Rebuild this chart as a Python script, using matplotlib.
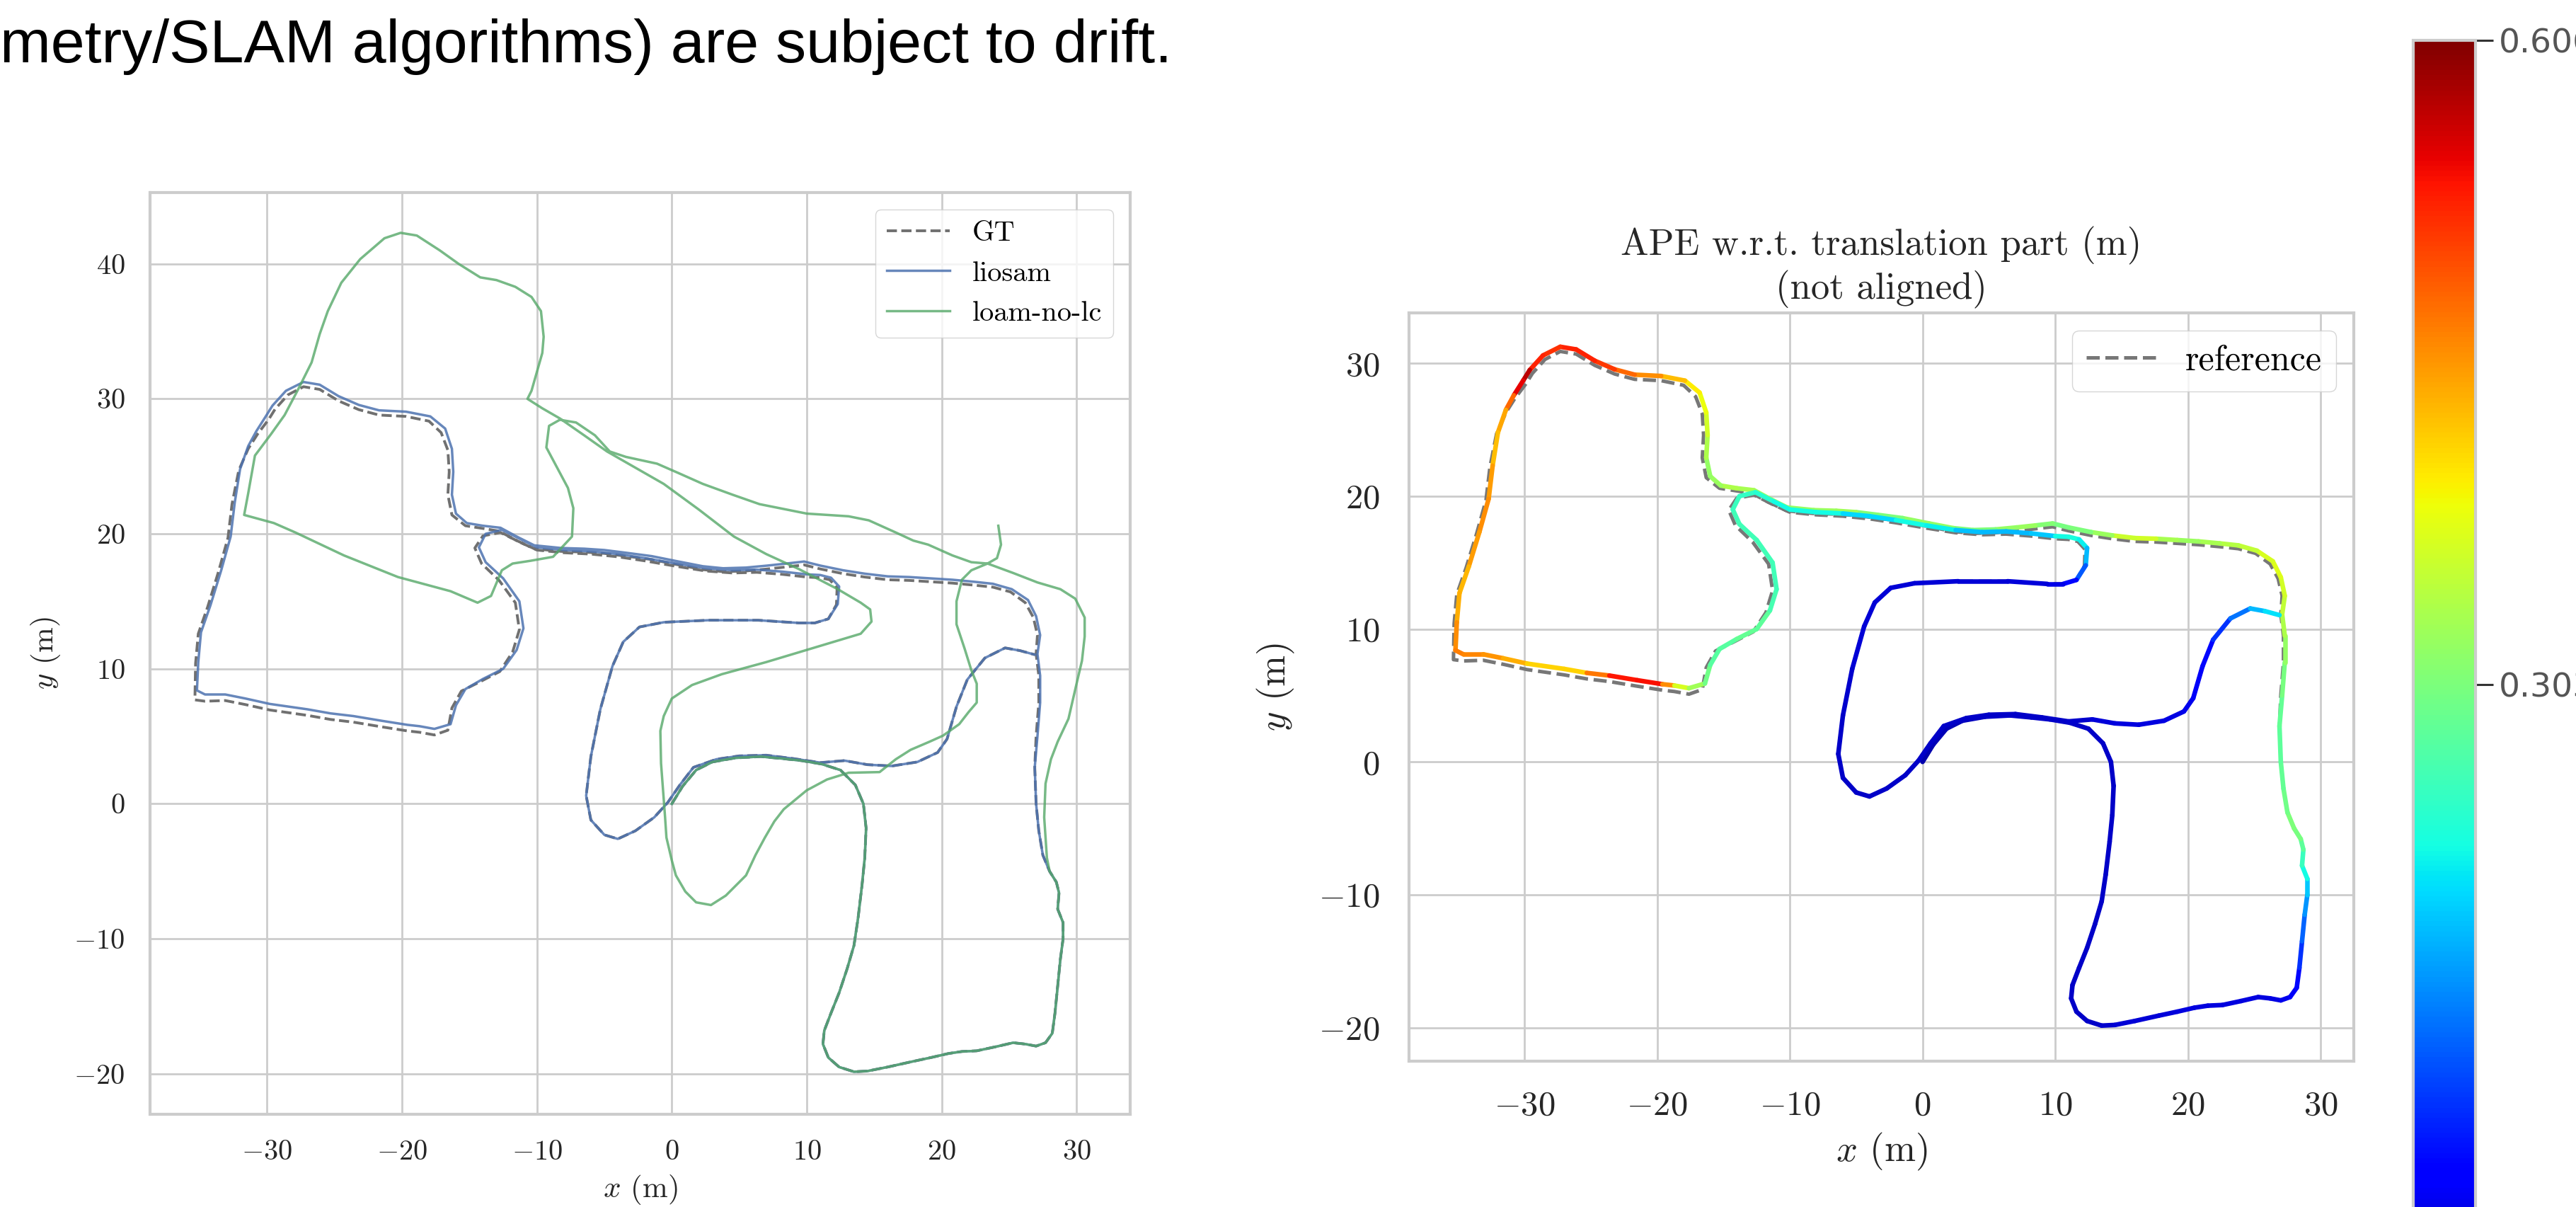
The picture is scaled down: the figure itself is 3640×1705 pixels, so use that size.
"""Two trajectory plots (GT / liosam / loam-no-lc and APE-coloured liosam) plus colorbar."""
import numpy as np
import matplotlib
matplotlib.use("Agg")
import matplotlib.pyplot as plt
from matplotlib.collections import LineCollection
from matplotlib.colors import Normalize
from matplotlib.cm import ScalarMappable

plt.rcParams.update({
    "font.family": ["cmr10"],
    "mathtext.fontset": "cm",
    "axes.formatter.use_mathtext": True,
})

# ---- liosam trajectory (m), in driving order ----
lio_x = [0.0, 0.8, 1.8, 3.0, 4.7, 6.6, 8.2, 9.6, 11.1,                      # start -> east
         12.5, 13.6, 14.2, 14.4, 14.3, 14.1, 13.8, 13.5, 13.0, 12.4, 11.8, 11.3, 11.2, 11.6, 12.4, 13.5, 14.5,
         16.0, 17.8, 19.2, 20.5, 21.5, 22.6, 24.0, 25.3, 26.2, 27.0, 27.7, 28.2,
         28.4, 28.6, 28.8, 29.0, 29.0, 28.6, 28.7, 28.5, 28.0, 27.5, 27.2, 27.0, 26.9, 27.1, 27.3, 27.3, 27.1,
         27.3, 27.0, 26.4, 25.2, 23.8, 22.4, 20.8, 19.2, 17.6, 16.0, 14.3, 12.7, 11.0, 9.8, 8.5, 7.1, 5.5, 3.8,
         2.3, 0.5, -1.5, -3.4, -5.0, -6.5, -8.2, -10.2, -11.5, -12.7,
         -14.0, -15.2, -16.0, -16.3, -16.2, -16.3, -16.8, -17.9, -19.7, -21.7, -23.2, -24.7, -26.1, -27.3,
         -28.6, -29.6, -30.1, -30.8, -31.4, -32.0, -32.4, -32.7, -33.4, -34.2, -34.9, -35.1, -35.2, -34.6,
         -33.1, -31.6, -29.8, -27.0, -25.3, -23.6, -21.5, -19.6, -18.7, -17.6, -16.4, -16.0, -15.3, -14.0,
         -12.5, -11.5, -11.0, -11.3, -12.5, -13.8, -14.3, -13.8, -12.6,
         -11.2, -10.0, -8.0, -6.0, -4.0, -2.0, 0.3, 2.5, 4.5, 6.3, 8.2, 10.0, 11.0,
         11.8, 12.4, 12.3, 11.6, 10.6, 9.4, 6.4, 2.7, -0.6, -2.4, -3.6, -4.4, -5.3, -6.0, -6.35, -6.0, -5.0,
         -4.0, -2.7, -1.3, -0.3, 0.6, 1.6, 3.3, 5.0, 7.0, 9.0, 11.0, 12.8, 14.5, 16.3, 18.2, 19.7, 20.4,
         21.1, 21.9, 23.2, 24.7, 25.8, 26.9]
lio_y = [0.0, 1.3, 2.5, 3.1, 3.4, 3.5, 3.35, 3.2, 2.95,
         2.5, 1.4, 0.0, -1.8, -4.0, -6.0, -8.5, -10.5, -12.2, -14.0, -15.5, -16.8, -17.8, -18.8, -19.5, -19.85, -19.8,
         -19.5, -19.1, -18.8, -18.5, -18.35, -18.3, -18.0, -17.7, -17.8, -17.95, -17.7, -17.0,
         -15.5, -13.5, -11.5, -10.0, -8.8, -7.8, -6.6, -5.8, -5.0, -3.8, -2.0, 0.0, 2.7, 5.0, 7.5, 9.5, 11.1,
         12.5, 13.9, 15.1, 15.9, 16.3, 16.45, 16.6, 16.7, 16.8, 16.85, 17.05, 17.3, 17.65, 17.95, 17.8, 17.65, 17.5, 17.45,
         17.6, 17.95, 18.35, 18.6, 18.8, 18.9, 18.95, 19.15, 19.8, 20.45,
         20.6, 20.8, 21.5, 22.9, 24.6, 26.3, 27.8, 28.7, 29.05, 29.15, 29.55, 30.2, 31.05, 31.25,
         30.6, 29.5, 28.7, 27.6, 26.5, 24.8, 22.3, 19.8, 17.3, 14.7, 12.7, 10.5, 8.4, 8.1,
         8.1, 7.8, 7.4, 7.0, 6.7, 6.5, 6.15, 5.85, 5.75, 5.55, 5.9, 7.3, 8.5, 9.25,
         10.0, 11.4, 13.0, 15.0, 16.7, 17.9, 19.0, 20.0, 20.3,
         19.6, 19.0, 18.8, 18.7, 18.5, 18.2, 17.8, 17.45, 17.3, 17.35, 17.2, 17.0, 16.95,
         16.75, 16.1, 14.8, 13.7, 13.4, 13.4, 13.6, 13.6, 13.45, 13.1, 12.0, 10.2, 7.0, 3.5, 0.6, -1.2, -2.3,
         -2.6, -2.0, -1.0, 0.1, 1.4, 2.7, 3.3, 3.55, 3.6, 3.35, 3.05, 3.2, 2.9, 2.8, 3.1, 3.8, 4.8,
         7.2, 9.2, 10.8, 11.55, 11.35, 11.05]
# APE (m) at each liosam point
ape = [0.02, 0.03, 0.03, 0.03, 0.04, 0.04, 0.04, 0.04, 0.04,
       0.04, 0.04, 0.04, 0.04, 0.04, 0.04, 0.04, 0.04, 0.04, 0.04, 0.04, 0.04, 0.04, 0.04, 0.04, 0.04, 0.045,
       0.045, 0.045, 0.05, 0.05, 0.05, 0.05, 0.05, 0.05, 0.05, 0.055, 0.06, 0.07,
       0.09, 0.12, 0.15, 0.18, 0.21, 0.24, 0.27, 0.29, 0.31, 0.30, 0.29, 0.28, 0.28, 0.29, 0.31, 0.33, 0.35,
       0.36, 0.37, 0.38, 0.36, 0.35, 0.34, 0.33, 0.32, 0.35, 0.38, 0.34, 0.31, 0.30, 0.30, 0.32, 0.33, 0.31, 0.30,
       0.31, 0.33, 0.31, 0.30, 0.32, 0.34, 0.31, 0.33, 0.32, 0.33,
       0.34, 0.34, 0.31, 0.33, 0.35, 0.38, 0.39, 0.41, 0.45, 0.47, 0.50, 0.53, 0.53, 0.53,
       0.51, 0.55, 0.60, 0.50, 0.47, 0.42, 0.44, 0.46, 0.46, 0.44, 0.43, 0.45, 0.47, 0.47,
       0.46, 0.45, 0.43, 0.40, 0.43, 0.52, 0.55, 0.53, 0.39, 0.35, 0.31, 0.28, 0.27, 0.28,
       0.29, 0.27, 0.26, 0.26, 0.26, 0.26, 0.26, 0.25, 0.25,
       0.23, 0.22, 0.23, 0.22, 0.19, 0.22, 0.23, 0.21, 0.17, 0.20, 0.17, 0.22, 0.23,
       0.23, 0.21, 0.16, 0.10, 0.06, 0.05, 0.045, 0.045, 0.045, 0.045, 0.045, 0.045, 0.045, 0.04, 0.04, 0.04, 0.04,
       0.04, 0.04, 0.04, 0.04, 0.04, 0.04, 0.04, 0.04, 0.04, 0.04, 0.04, 0.045, 0.05, 0.05, 0.05, 0.055, 0.06,
       0.07, 0.09, 0.12, 0.17, 0.20, 0.22]

# ---- ground truth (reference) trajectory ----
gt_x = [0.0, 0.8, 1.8, 3.0, 4.7, 6.6, 8.2, 9.6, 11.1,
        12.5, 13.6, 14.2, 14.4, 14.3, 14.1, 13.8, 13.5, 13.0, 12.4, 11.8, 11.3, 11.2, 11.6, 12.4, 13.5, 14.5,
        16.0, 17.8, 19.2, 20.5, 21.5, 22.6, 24.0, 25.3, 26.2, 27.0, 27.7, 28.2,
        28.4, 28.6, 28.8, 29.0, 29.0, 28.6, 28.7, 28.5, 28.0, 27.5, 27.2, 27.0, 26.9, 27.0, 27.2, 27.2, 27.0,
        27.1, 26.8, 26.2, 25.1, 23.8, 22.4, 20.8, 19.2, 17.6, 16.0, 14.3, 12.7, 11.0, 9.8, 8.5, 7.1, 5.5, 3.8,
        2.3, 0.5, -1.5, -3.4, -5.0, -6.5, -8.2, -10.2, -11.6, -12.8,
        -14.0, -15.3, -16.3, -16.6, -16.5, -16.6, -17.1, -18.0, -19.7, -21.7, -23.2, -24.7, -26.1, -27.3,
        -28.45, -29.4, -29.9, -30.7, -31.4, -32.1, -32.6, -32.9, -33.6, -34.4, -35.1, -35.3, -35.35, -34.6,
        -33.1, -31.6, -29.8, -27.0, -25.3, -23.6, -21.5, -19.6, -18.7, -17.6, -16.6, -16.3, -15.6, -14.2,
        -12.75, -11.8, -11.3, -11.6, -12.8, -14.1, -14.6, -14.0, -12.7,
        -11.3, -10.0, -8.0, -6.0, -4.0, -2.0, 0.3, 2.5, 4.5, 6.3, 8.2, 10.0, 11.0,
        11.7, 12.25, 12.2, 11.6, 10.6, 9.4, 6.4, 2.7, -0.6, -2.4, -3.6, -4.4, -5.3, -6.0, -6.35, -6.0, -5.0,
        -4.0, -2.7, -1.3, -0.3, 0.6, 1.6, 3.3, 5.0, 7.0, 9.0, 11.0, 12.8, 14.5, 16.3, 18.2, 19.7, 20.4,
        21.1, 21.9, 23.2, 24.7, 25.8, 26.9]
gt_y = [0.0, 1.3, 2.5, 3.1, 3.4, 3.5, 3.35, 3.2, 2.95,
        2.5, 1.4, 0.0, -1.8, -4.0, -6.0, -8.5, -10.5, -12.2, -14.0, -15.5, -16.8, -17.8, -18.8, -19.5, -19.85, -19.8,
        -19.5, -19.1, -18.8, -18.5, -18.35, -18.3, -18.0, -17.7, -17.8, -17.95, -17.7, -17.0,
        -15.5, -13.5, -11.5, -10.0, -8.8, -7.8, -6.6, -5.8, -5.0, -3.8, -2.0, 0.0, 2.7, 5.0, 7.5, 9.5, 11.1,
        12.5, 13.8, 14.9, 15.7, 16.05, 16.2, 16.35, 16.45, 16.55, 16.6, 16.8, 17.05, 17.4, 17.7, 17.55, 17.4, 17.25, 17.2,
        17.35, 17.7, 18.1, 18.35, 18.55, 18.65, 18.7, 18.9, 19.55, 20.2,
        20.4, 20.6, 21.4, 22.9, 24.6, 26.2, 27.5, 28.35, 28.7, 28.8, 29.2, 29.85, 30.7, 30.9,
        30.3, 29.25, 28.45, 27.4, 26.3, 24.7, 22.2, 19.7, 17.2, 14.6, 12.6, 10.4, 7.7, 7.6,
        7.65, 7.35, 6.95, 6.55, 6.25, 6.05, 5.7, 5.4, 5.3, 5.1, 5.45, 7.1, 8.35, 9.05,
        9.8, 11.25, 12.9, 14.9, 16.55, 17.8, 18.95, 19.85, 20.1,
        19.4, 18.8, 18.6, 18.5, 18.3, 18.0, 17.6, 17.25, 17.1, 17.15, 17.0, 16.8, 16.75,
        16.6, 16.0, 14.75, 13.7, 13.4, 13.4, 13.6, 13.6, 13.45, 13.1, 12.0, 10.2, 7.0, 3.5, 0.6, -1.2, -2.3,
        -2.6, -2.0, -1.0, 0.1, 1.4, 2.7, 3.3, 3.55, 3.6, 3.35, 3.05, 3.2, 2.9, 2.8, 3.1, 3.8, 4.8,
        7.2, 9.2, 10.8, 11.55, 11.35, 11.05]

# ---- loam-no-lc trajectory (drifts away once past the first loop) ----
loam_x = [0.0, 0.8, 1.8, 3.0, 4.7, 6.6, 8.2, 9.6, 11.1,
          12.5, 13.6, 14.2, 14.4, 14.3, 14.1, 13.8, 13.5, 13.0, 12.4, 11.8, 11.3, 11.2, 11.6, 12.4, 13.5, 14.5,
          16.0, 17.8, 19.2, 20.5, 21.5, 22.6, 24.0, 25.3, 26.2, 27.0, 27.7, 28.2,
          28.4, 28.6, 28.8, 29.0, 29.0, 28.6, 28.7, 28.5, 28.0,
          27.8, 27.7, 27.6, 27.7, 28.1, 28.6, 29.4, 30.0, 30.4, 30.6, 30.6, 29.9, 28.8, 27.1, 25.3, 23.4,
          22.2, 20.8, 19.0, 17.9, 16.6, 14.6, 13.1, 10.0, 8.0, 6.5, 4.5, 2.3, 0.5, -1.1, -3.4, -4.6, -5.7,
          -7.1, -8.3, -9.1,
          -9.3, -8.5, -7.7, -7.3, -7.4, -8.8, -10.5, -11.8, -12.6, -13.4, -14.4,
          -16.4, -20.3, -24.3, -27.9, -29.5, -31.7,
          -31.4, -30.9, -29.7, -28.7, -27.7, -26.7, -26.1, -25.5, -24.5, -23.1, -21.3, -20.1, -18.9, -17.2,
          -15.8, -14.2, -13.0, -11.6, -10.4, -9.7, -9.5, -9.6, -10.0, -10.4, -10.7,
          -9.6, -8.3, -6.5, -4.8, -2.7, -0.6, 2.0, 4.6, 7.0, 9.4, 12.3, 14.0, 14.7, 14.8, 14.0, 12.0, 10.0,
          7.0, 3.7, 1.5, 0.0, -0.6, -0.85, -0.8, -0.65, -0.5, -0.4, 0.0, 0.3, 1.0, 1.8, 2.9, 4.0, 5.5, 6.2,
          6.9, 7.6, 8.3, 10.0, 11.5, 13.1, 15.4, 16.6, 17.7, 19.1, 20.1, 21.3, 22.0, 22.6, 22.6, 22.2, 21.7,
          21.1, 21.1, 21.5, 22.2, 23.4, 24.1, 24.4, 24.2]
loam_y = [0.0, 1.3, 2.5, 3.1, 3.4, 3.5, 3.35, 3.2, 2.95,
          2.5, 1.4, 0.0, -1.8, -4.0, -6.0, -8.5, -10.5, -12.2, -14.0, -15.5, -16.8, -17.8, -18.8, -19.5, -19.85, -19.8,
          -19.5, -19.1, -18.8, -18.5, -18.35, -18.3, -18.0, -17.7, -17.8, -17.95, -17.7, -17.0,
          -15.5, -13.5, -11.5, -10.0, -8.8, -7.8, -6.6, -5.8, -5.0,
          -4.0, -2.5, -1.0, 1.5, 3.3, 4.6, 6.3, 8.9, 10.6, 12.4, 13.8, 15.2, 15.9, 16.4, 17.1, 17.8,
          17.9, 18.4, 19.2, 19.5, 20.1, 21.0, 21.3, 21.5, 21.9, 22.2, 22.9, 23.7, 24.5, 25.2, 25.7, 26.1, 27.3,
          28.25, 28.45, 28.0,
          26.4, 24.9, 23.4, 21.9, 19.8, 18.3, 18.0, 17.8, 17.3, 15.4, 14.9,
          15.75, 16.8, 18.4, 20.1, 20.8, 21.4,
          23.0, 25.8, 27.4, 28.8, 30.7, 32.7, 34.8, 36.5, 38.6, 40.35, 41.9, 42.3, 42.1, 41.0,
          40.0, 39.0, 38.8, 38.3, 37.55, 36.5, 34.6, 33.4, 32.0, 30.6, 30.0,
          29.3, 28.55, 27.3, 26.1, 24.9, 23.7, 21.8, 19.8, 18.5, 17.4, 15.9, 14.9, 14.4, 13.5, 12.6, 12.0, 11.4,
          10.5, 9.6, 8.8, 7.8, 6.5, 5.4, 3.0, 1.0, -1.0, -2.5, -4.2, -5.3, -6.5, -7.3, -7.5, -6.8, -5.3, -3.8,
          -2.5, -1.3, -0.4, 1.0, 1.8, 2.3, 2.35, 3.3, 4.0, 4.6, 5.05, 5.9, 6.8, 7.5, 8.9, 9.9, 11.5,
          13.3, 15.0, 16.6, 17.3, 17.8, 18.2, 19.2, 20.6]

APE_MAX = 0.606
cbar_ticks = [0.0, 0.303, 0.606]
cbar_labels = ["0.000", "0.303", "0.606"]

W, H = 3641, 1705
fig = plt.figure(figsize=(W / 100, H / 100), dpi=100)
TXT = "#262626"


def style(ax, fs, pad):
    ax.set_facecolor("white")
    ax.grid(True, color="#cccccc", lw=2.0)
    ax.set_axisbelow(True)
    for s in ax.spines.values():
        s.set_color("#cccccc")
        s.set_linewidth(3.0)
    ax.tick_params(length=0, labelsize=fs, labelcolor=TXT, pad=pad)


# ---- left: GT vs liosam vs loam-no-lc ----
axL = fig.add_axes([212.5 / W, 1 - 1574 / H, 1385 / W, 1302.3 / H])
axL.plot(gt_x, gt_y, "--", color="#707070", lw=2.8, label="GT", zorder=3)
axL.plot(lio_x, lio_y, "-", color="#4C72B0", lw=2.5, alpha=0.85, label="liosam", zorder=4)
axL.plot(loam_x, loam_y, "-", color="#55A868", lw=2.5, alpha=0.8, label="loam-no-lc", zorder=5)
axL.set_xlim(-38.65, 34.0)
axL.set_ylim(-23.0, 45.3)
axL.set_xticks([-30, -20, -10, 0, 10, 20, 30])
axL.set_yticks([-20, -10, 0, 10, 20, 30, 40])
style(axL, 29, 26)
axL.set_xlabel("$x$ (m)", fontsize=31, color=TXT, labelpad=8)
axL.set_ylabel("$y$ (m)", fontsize=31, color=TXT, labelpad=12)
axL.legend(loc="upper right", fontsize=29, frameon=True, edgecolor="#cccccc",
           framealpha=0.8, borderaxespad=0.6, handlelength=2.2)

# ---- right: APE coloured liosam vs reference ----
axR = fig.add_axes([1991 / W, 1 - 1498.5 / H, 1335 / W, 1056.5 / H])
norm = Normalize(0.0, APE_MAX)
axR.plot(gt_x, gt_y, "--", color="#777777", lw=3.6, label="reference", zorder=2)
pts = np.column_stack([lio_x, lio_y])
segs = np.stack([pts[:-1], pts[1:]], axis=1)
ape_arr = np.asarray(ape)
lc = LineCollection(segs, cmap="jet", norm=norm, linewidths=4.7, capstyle="round",
                    joinstyle="round", zorder=3)
lc.set_array((ape_arr[:-1] + ape_arr[1:]) / 2)
axR.add_collection(lc)
axR.set_xlim(-38.7, 32.5)
axR.set_ylim(-22.5, 33.8)
axR.set_xticks([-30, -20, -10, 0, 10, 20, 30])
axR.set_yticks([-20, -10, 0, 10, 20, 30])
style(axR, 35, 30)
axR.set_xlabel("$x$ (m)", fontsize=38, color=TXT, labelpad=10)
axR.set_ylabel("$y$ (m)", fontsize=38, color=TXT, labelpad=22)
axR.set_title("APE w.r.t. translation part (m)\n(not aligned)", fontsize=38, color=TXT, pad=14)
axR.legend(loc="upper right", fontsize=36, frameon=True, edgecolor="#cccccc",
           framealpha=0.8, borderaxespad=0.5)

# ---- colorbar (runs off the bottom of the screenshot) ----
cax = fig.add_axes([3410 / W, (H - 1877.5) / H, 88 / W, (1877.5 - 56.5) / H])
cb = fig.colorbar(ScalarMappable(norm=norm, cmap="jet"), cax=cax)
cb.set_ticks(cbar_ticks)
cb.set_ticklabels(cbar_labels)
cb.outline.set_edgecolor("#cccccc")
cb.outline.set_linewidth(3)
cb.ax.tick_params(length=18, width=2.2, color="#333333", labelsize=34, labelcolor="#555555", pad=6)
for t in cb.ax.get_yticklabels():
    t.set_fontfamily("DejaVu Sans")

# ---- cropped slide text at the top ----
fig.text(0.0, 1 - 88 / H, "metry/SLAM algorithms) are subject to drift.", fontsize=62,
         family="Liberation Sans", color="black", ha="left", va="baseline")

fig.savefig("out.png", dpi=100)
